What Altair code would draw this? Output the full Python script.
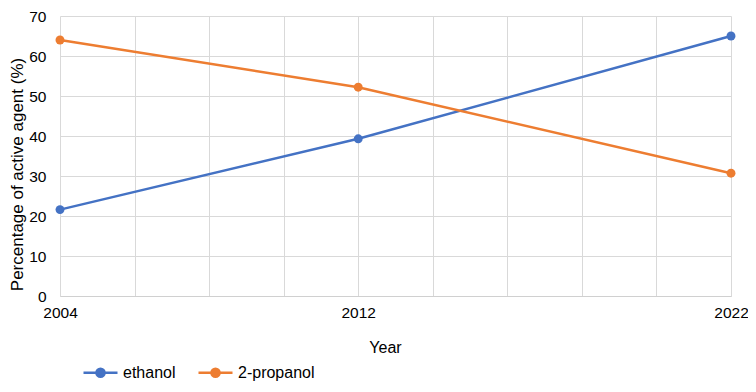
import altair as alt
import pandas as pd

years = [2004, 2012, 2022]
ethanol = [21.6, 39.3, 65.0]
propanol = [64.0, 52.2, 30.7]
series_names = ["ethanol", "2-propanol"]
colors = ["#4472C4", "#ED7D31"]
x_grid_years = [2004, 2006, 2008, 2010, 2012, 2014, 2016, 2018, 2020, 2022]
x_label_years = [2004, 2012, 2022]
y_ticks = [0, 10, 20, 30, 40, 50, 60, 70]

df = pd.concat([
    pd.DataFrame({"Year": years, "value": ethanol, "series": series_names[0]}),
    pd.DataFrame({"Year": years, "value": propanol, "series": series_names[1]}),
])

FONT = "Liberation Sans, Arial, sans-serif"
label_list = ",".join(str(v) for v in x_label_years)

x_enc = alt.X(
    "Year:Q",
    scale=alt.Scale(domain=[2004, 2022], nice=False, zero=False),
    axis=alt.Axis(
        values=x_grid_years,
        format="d",
        labelExpr=f"indexof([{label_list}], datum.value) >= 0 ? datum.label : ''",
        title="Year",
        titleX=325,
        titleY=51,
        titleBaseline="middle",
        labelPadding=9,
        labelFlush=False,
    ),
)
y_enc = alt.Y(
    "value:Q",
    scale=alt.Scale(domain=[0, 70], nice=False),
    axis=alt.Axis(
        values=y_ticks,
        title="Percentage of active agent (%)",
        titleX=-43,
        titleY=158,
        titleBaseline="middle",
        titleAlign="center",
        titleFontSize=17,
        labelPadding=14,
        domain=False,
    ),
)

# line + filled dot drawn with stroke only (concentric rings fill the dot)
legend_path = (
    "M-1,0L1,0"
    "M-0.24,0A0.24,0.24,0,1,1,0.24,0A0.24,0.24,0,1,1,-0.24,0"
    "M-0.14,0A0.14,0.14,0,1,1,0.14,0A0.14,0.14,0,1,1,-0.14,0"
    "M-0.04,0A0.04,0.04,0,1,1,0.04,0A0.04,0.04,0,1,1,-0.04,0"
)
leg = alt.Legend(
    orient="none",
    legendX=22,
    legendY=338,
    direction="horizontal",
    title=None,
    symbolType=legend_path,
    symbolSize=1156,
    symbolStrokeWidth=2.5,
    symbolFillColor="transparent",
    labelOffset=4,
    columnPadding=17,
    labelFontSize=16,
)

lines = alt.Chart(df).mark_line(strokeWidth=2.5).encode(
    x=x_enc,
    y=y_enc,
    color=alt.Color("series:N", scale=alt.Scale(domain=series_names, range=colors), legend=leg, sort=series_names),
)

points = alt.Chart(df).mark_point(filled=True, size=80, opacity=1).encode(
    x=x_enc,
    y=y_enc,
    color=alt.Color("series:N", scale=alt.Scale(domain=series_names, range=colors), legend=leg, sort=series_names),
)

chart = (
    alt.layer(lines, points)
    .properties(
        width=671,
        height=280,
        autosize=alt.AutoSizeParams(type="none"),
        padding={"left": 52, "top": 8, "right": 17, "bottom": 88},
    )
    .configure_view(stroke=None)
    .configure_axis(
        grid=True,
        gridColor="#d9d9d9",
        gridWidth=1,
        domainColor="#d0d0d0",
        ticks=False,
        labelFont=FONT,
        titleFont=FONT,
        labelFontSize=15.5,
        titleFontSize=16,
        labelColor="#000000",
        titleColor="#000000",
        titleFontWeight="normal",
    )
    .configure_legend(labelFont=FONT, labelColor="#000000")
)

chart.save("out.html", embed_options={"renderer": "svg", "actions": False})
